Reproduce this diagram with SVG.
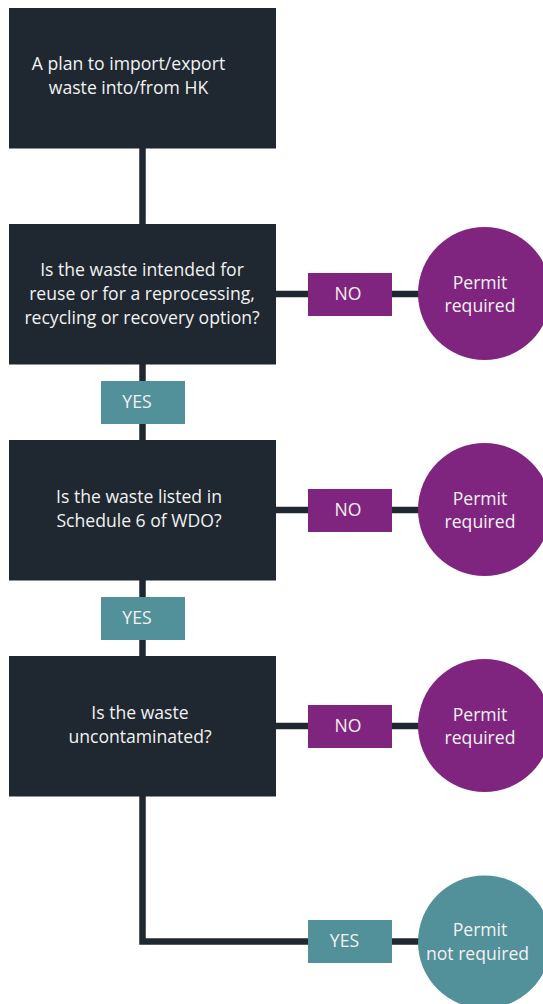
<svg xmlns="http://www.w3.org/2000/svg" width="543" height="1004" viewBox="0 0 543 1004">
<style>
.box{fill:#1f2831}
.lbl-no{fill:#80257f}
.lbl-yes{fill:#52909a}
.circ-no{fill:#80257f}
.circ-yes{fill:#52909a}
.conn{stroke:#1f2831;stroke-width:6.5;fill:none}
text{font-family:"Open Sans","Liberation Sans",sans-serif;font-size:17.6px;fill:#f2f2f2;text-anchor:middle}
</style>
<rect width="543" height="1004" fill="#ffffff"/>
<g id="connectors">
<path class="conn" d="M142.5 148 V224"/>
<path class="conn" d="M142.5 364 V440"/>
<path class="conn" d="M142.5 580 V656"/>
<path class="conn" d="M142.5 796 V941.5 H420"/>
<path class="conn" d="M276 294 H420"/>
<path class="conn" d="M276 510 H420"/>
<path class="conn" d="M276 726 H420"/>
</g>
<g id="n-start"><rect class="box" x="9" y="8" width="267" height="140.5"/>
<text x="128.5" y="70">A plan to import/export</text><text x="128.5" y="94">waste into/from HK</text></g>
<g id="n-q1"><rect class="box" x="9" y="224" width="267" height="140.5"/>
<text x="142" y="276">Is the waste intended for</text><text x="142" y="300">reuse or for a reprocessing,</text><text x="142" y="324">recycling or recovery option?</text></g>
<g id="n-q2"><rect class="box" x="9" y="440" width="267" height="140.5"/>
<text x="139" y="503">Is the waste listed in</text><text x="139" y="527">Schedule 6 of WDO?</text></g>
<g id="n-q3"><rect class="box" x="9" y="656" width="267" height="140.5"/>
<text x="140" y="719">Is the waste</text><text x="140" y="743">uncontaminated?</text></g>
<g id="l-yes1"><rect class="lbl-yes" x="101" y="381" width="84" height="43"/><text x="137" y="408">YES</text></g>
<g id="l-yes2"><rect class="lbl-yes" x="101" y="597" width="84" height="43"/><text x="137" y="624">YES</text></g>
<g id="l-yes3"><rect class="lbl-yes" x="308" y="920" width="84" height="43"/><text x="344.5" y="947">YES</text></g>
<g id="l-no1"><rect class="lbl-no" x="308" y="273" width="84" height="43"/><text x="348" y="300">NO</text></g>
<g id="l-no2"><rect class="lbl-no" x="308" y="489" width="84" height="43"/><text x="348" y="516">NO</text></g>
<g id="l-no3"><rect class="lbl-no" x="308" y="705" width="84" height="43"/><text x="348" y="732">NO</text></g>
<g id="r1"><circle class="circ-no" cx="484.5" cy="293.5" r="66.5"/><text x="480" y="289">Permit</text><text x="480" y="312">required</text></g>
<g id="r2"><circle class="circ-no" cx="484.5" cy="509.5" r="66.5"/><text x="480" y="505">Permit</text><text x="480" y="528">required</text></g>
<g id="r3"><circle class="circ-no" cx="484.5" cy="725.5" r="66.5"/><text x="480" y="721">Permit</text><text x="480" y="744">required</text></g>
<g id="r4"><circle class="circ-yes" cx="484.5" cy="942" r="66.5"/><text x="480" y="936">Permit</text><text x="477.5" y="960">not required</text></g>
</svg>
